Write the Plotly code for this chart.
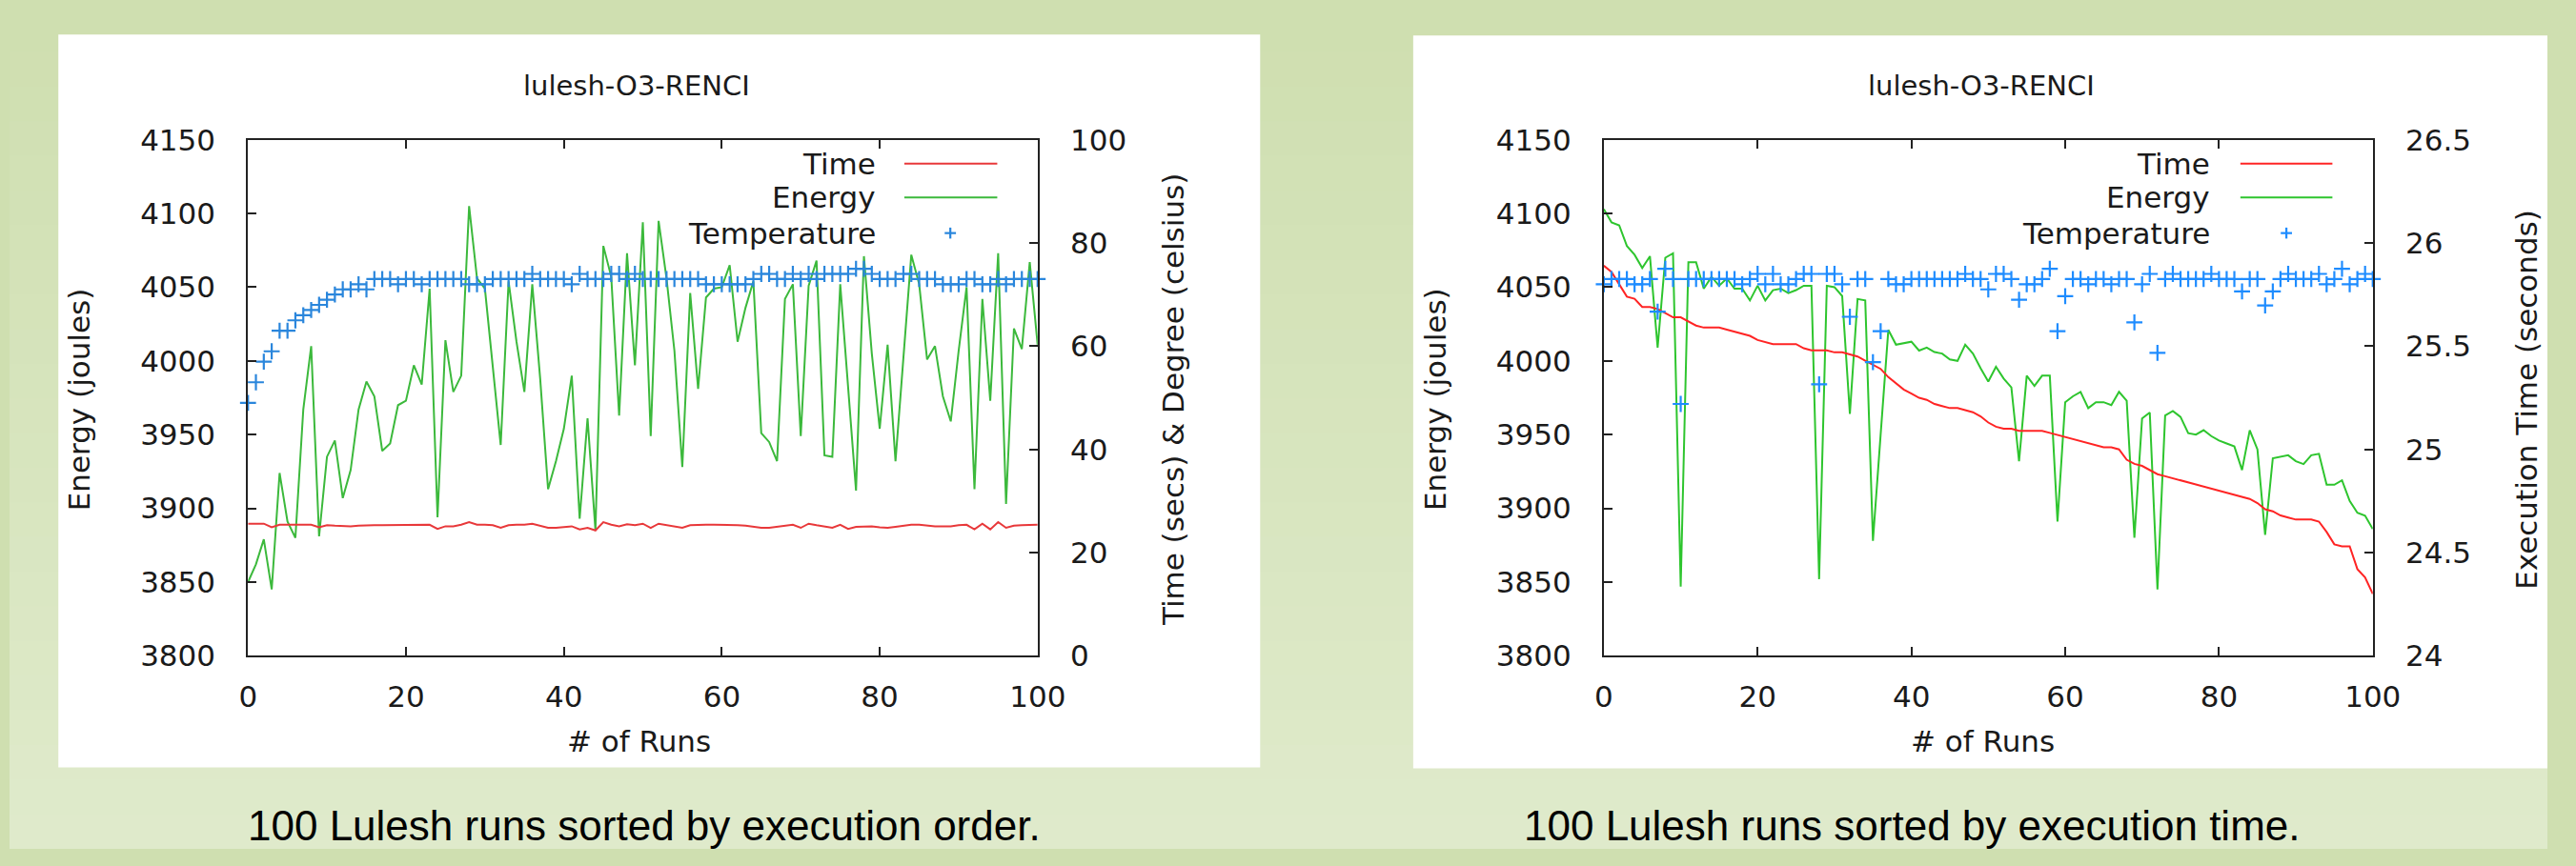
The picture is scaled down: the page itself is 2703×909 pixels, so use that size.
import plotly.graph_objects as go

W, H = 2703, 909

# ---------------- data ----------------
runs = list(range(101))

# Left chart: runs sorted by execution order
left_time = [25.6, 25.6, 25.6, 24.9, 25.4, 25.4, 25.4, 25.5, 25.4, 24.9,
             25.3, 25.2, 25.1, 25.1, 25.2, 25.3, 25.3, 25.3, 25.3, 25.3,
             25.3, 25.4, 25.3, 25.4, 24.6, 25.1, 25.1, 25.4, 25.9, 25.4,
             25.4, 25.3, 24.8, 25.3, 25.4, 25.4, 25.6, 25.2, 24.8, 24.8,
             25.0, 25.1, 24.5, 24.8, 24.3, 25.9, 25.4, 25.1, 25.5, 25.3,
             25.6, 24.8, 25.6, 25.3, 25.1, 24.8, 25.3, 25.4, 25.4, 25.4,
             25.4, 25.4, 25.3, 25.2, 25.0, 24.8, 24.8, 25.0, 25.3, 25.4,
             24.8, 25.6, 25.3, 25.1, 24.8, 25.4, 24.6, 25.0, 25.0, 25.1,
             24.9, 24.8, 25.0, 25.2, 25.4, 25.4, 25.2, 25.1, 25.1, 25.1,
             25.3, 25.4, 24.5, 25.6, 24.5, 25.9, 24.8, 25.2, 25.3, 25.4,
             25.4]
left_energy = [3850, 3862, 3879, 3845, 3924, 3891, 3880, 3967, 4010, 3881,
               3935, 3946, 3907, 3926, 3967, 3986, 3976, 3939, 3944, 3970,
               3973, 3997, 3984, 4049, 3894, 4014, 3979, 3990, 4105, 4056,
               4049, 3996, 3943, 4054, 4013, 3979, 4052, 3988, 3913, 3932,
               3954, 3990, 3893, 3961, 3885, 4078, 4057, 3963, 4073, 3997,
               4094, 3949, 4095, 4056, 4007, 3928, 4046, 3981, 4043, 4049,
               4050, 4065, 4013, 4036, 4054, 3951, 3945, 3932, 4042, 4052,
               3949, 4051, 4068, 3936, 3935, 4052, 3985, 3912, 4071, 4005,
               3954, 4011, 3932, 4000, 4072, 4052, 4001, 4010, 3976, 3959,
               4007, 4050, 3913, 4042, 3973, 4073, 3903, 4022, 4008, 4067,
               4011]
left_temp = [49, 53, 57, 59, 63, 63, 65, 66, 67, 68,
             69, 70, 71, 71, 72, 71, 73, 73, 73, 72,
             73, 73, 72, 73, 73, 73, 73, 73, 72, 72,
             72, 73, 73, 73, 73, 73, 74, 73, 73, 73,
             73, 72, 74, 73, 73, 73, 74, 74, 73, 74,
             73, 73, 73, 73, 73, 73, 73, 73, 72, 72,
             72, 72, 72, 72, 73, 74, 74, 73, 73, 74,
             73, 74, 73, 74, 74, 74, 74, 75, 75, 74,
             73, 73, 73, 74, 74, 73, 73, 73, 72, 72,
             72, 73, 73, 72, 72, 73, 72, 73, 73, 73,
             73]

# Right chart: runs sorted by execution time
right_time = [25.89, 25.86, 25.80, 25.74, 25.73, 25.69, 25.69, 25.68, 25.66, 25.64,
              25.64, 25.62, 25.60, 25.59, 25.59, 25.59, 25.58, 25.57, 25.56, 25.55,
              25.53, 25.52, 25.51, 25.51, 25.51, 25.51, 25.49, 25.48, 25.48, 25.48,
              25.47, 25.47, 25.46, 25.45, 25.43, 25.41, 25.39, 25.35, 25.32, 25.29,
              25.27, 25.25, 25.24, 25.22, 25.21, 25.20, 25.20, 25.19, 25.18, 25.16,
              25.13, 25.11, 25.10, 25.10, 25.09, 25.09, 25.09, 25.09, 25.08, 25.07,
              25.06, 25.05, 25.04, 25.03, 25.02, 25.01, 25.01, 25.00, 24.95, 24.93,
              24.92, 24.90, 24.88, 24.87, 24.86, 24.85, 24.84, 24.83, 24.82, 24.81,
              24.80, 24.79, 24.78, 24.77, 24.76, 24.74, 24.71, 24.70, 24.68, 24.67,
              24.66, 24.66, 24.66, 24.65, 24.60, 24.54, 24.53, 24.53, 24.42, 24.38,
              24.30]
right_energy = [4103, 4094, 4092, 4078, 4072, 4063, 4071, 4009, 4070, 4073,
                3847, 4067, 4067, 4049, 4057, 4051, 4056, 4049, 4049, 4041,
                4051, 4041, 4048, 4049, 4046, 4048, 4051, 4051, 3852, 4051,
                4050, 4044, 3964, 4042, 4041, 3878, 3950, 4021, 4011, 4012,
                4013, 4007, 4009, 4006, 4005, 4001, 4000, 4011, 4005, 3995,
                3986, 3996, 3988, 3982, 3932, 3990, 3983, 3990, 3990, 3891,
                3972, 3976, 3979, 3968, 3972, 3972, 3970, 3979, 3973, 3880,
                3961, 3965, 3845, 3963, 3966, 3962, 3951, 3950, 3953, 3949,
                3946, 3944, 3942, 3926, 3953, 3940, 3882, 3934, 3935, 3936,
                3932, 3930, 3936, 3937, 3916, 3916, 3919, 3905, 3897, 3895,
                3886]
right_temp = [72, 73, 73, 73, 72, 72, 73, 66.7, 75, 73,
              48.8, 73, 73, 73, 73, 73, 73, 73, 72, 73,
              74, 72, 74, 72, 72, 73, 74, 74, 52.6, 74,
              74, 72, 65.7, 73, 73, 56.9, 62.9, 73, 72, 72,
              73, 73, 73, 73, 73, 73, 73, 74, 73, 73,
              71, 74, 74, 73, 69, 72, 72, 73, 75, 62.9,
              69.7, 73, 73, 72, 73, 73, 72, 73, 73, 64.6,
              72, 74, 58.7, 73, 74, 73, 73, 73, 73, 74,
              73, 73, 73, 70.6, 73, 73, 67.9, 70.6, 73, 74,
              73, 73, 73, 74, 72, 73, 75, 72, 73, 74,
              73]

chart_title = "lulesh-O3-RENCI"
x_title = "# of Runs"
legend_names = ["Time", "Energy", "Temperature"]
left_caption = "100 Lulesh runs sorted by execution order."
right_caption = "100 Lulesh runs sorted by execution time."

# ---------------- styles ----------------
L_RED, L_GREEN, L_BLUE = "#e8383a", "#3cb93c", "#2a86dc"
R_RED, R_GREEN, R_BLUE = "#ff2424", "#2ec52e", "#1e8cff"
AX_COL = "#222222"
FONT = "DejaVu Sans"
FS = 31


def px(x):
    return x / W


def py(y):
    return 1 - y / H


fig = go.Figure()

# Left chart traces
fig.add_trace(go.Scatter(x=runs, y=left_time, xaxis="x", yaxis="y2", mode="lines",
                         line=dict(color=L_RED, width=2), showlegend=False))
fig.add_trace(go.Scatter(x=runs, y=left_energy, xaxis="x", yaxis="y", mode="lines",
                         line=dict(color=L_GREEN, width=2), showlegend=False))
fig.add_trace(go.Scatter(x=runs, y=left_temp, xaxis="x", yaxis="y2", mode="markers",
                         marker=dict(symbol="cross-thin", size=12,
                                     line=dict(width=2.2, color=L_BLUE)),
                         cliponaxis=False, showlegend=False))
# Right chart traces
fig.add_trace(go.Scatter(x=runs, y=right_time, xaxis="x2", yaxis="y4", mode="lines",
                         line=dict(color=R_RED, width=2), showlegend=False))
fig.add_trace(go.Scatter(x=runs, y=right_energy, xaxis="x2", yaxis="y3", mode="lines",
                         line=dict(color=R_GREEN, width=2), showlegend=False))
fig.add_trace(go.Scatter(x=runs, y=right_temp, xaxis="x2", yaxis="y5", mode="markers",
                         marker=dict(symbol="cross-thin", size=12,
                                     line=dict(width=2.2, color=R_BLUE)),
                         cliponaxis=False, showlegend=False))

ax = dict(showline=True, linecolor=AX_COL, linewidth=2, ticks="inside", ticklen=9,
          tickwidth=1.5, tickcolor=AX_COL, showgrid=False, zeroline=False,
          tickfont=dict(family=FONT, size=FS, color="#1a1a1a"))
xdom_l = [254 / W, 1095 / W]
xdom_r = [1698 / W, 2517 / W]
ydom = [1 - 698 / H, 1 - 134 / H]

shapes = []
# background gradient bands
top_c = (207, 223, 176)
bot_c = (223, 234, 203)
nb = 24
for i in range(nb):
    t = i / (nb - 1)
    c = tuple(int(round(top_c[k] + (bot_c[k] - top_c[k]) * t)) for k in range(3))
    shapes.append(dict(type="rect", xref="paper", yref="paper", x0=0, x1=1,
                       y0=max(0, 1 - (i + 1) / nb - 0.002), y1=1 - i / nb,
                       fillcolor="rgb(%d,%d,%d)" % c, line=dict(width=0), layer="below"))
# white panels
for (x0, x1, y0, y1) in [(52, 1332, 19, 820), (1495, 2703, 20, 821)]:
    shapes.append(dict(type="rect", xref="paper", yref="paper", x0=px(x0), x1=px(x1),
                       y0=py(y1), y1=py(y0), fillcolor="white", line=dict(width=0),
                       layer="below"))

annotations = []


def text(x, y, s, size=FS, family=FONT, color="#1a1a1a", xanchor="center",
         yanchor="middle", angle=0):
    annotations.append(dict(x=px(x), y=py(y), xref="paper", yref="paper", text=s,
                            showarrow=False, xanchor=xanchor, yanchor=yanchor,
                            textangle=angle, font=dict(family=family, size=size, color=color)))


# legends (gnuplot style: text right-aligned, sample to the right)
def legend(x_text, x0, x1, xm, red, green, blue):
    ys = [160, 197, 236]
    for name, y in zip(legend_names, ys):
        text(x_text, y, name, xanchor="right")
    shapes.append(dict(type="line", xref="paper", yref="paper", x0=px(x0), x1=px(x1),
                       y0=py(ys[0]), y1=py(ys[0]), line=dict(color=red, width=2)))
    shapes.append(dict(type="line", xref="paper", yref="paper", x0=px(x0), x1=px(x1),
                       y0=py(ys[1]), y1=py(ys[1]), line=dict(color=green, width=2)))
    shapes.append(dict(type="line", xref="paper", yref="paper", x0=px(xm - 6), x1=px(xm + 6),
                       y0=py(ys[2]), y1=py(ys[2]), line=dict(color=blue, width=2.2)))
    shapes.append(dict(type="line", xref="paper", yref="paper", x0=px(xm), x1=px(xm),
                       y0=py(ys[2] - 6), y1=py(ys[2] + 6), line=dict(color=blue, width=2.2)))


legend(925, 953, 1052, 1002, L_RED, L_GREEN, L_BLUE)
legend(2346, 2376, 2474, 2425, R_RED, R_GREEN, R_BLUE)

# chart titles, axis titles
text(668, 75, chart_title, size=29)
text(2100, 75, chart_title, size=29)
text(670, 791, x_title)
text(2102, 791, x_title)
text(75, 418, "Energy (joules)", angle=-90)
text(1240, 418, "Time (secs) &amp; Degree (celsius)", angle=-90)
text(1519, 418, "Energy (joules)", angle=-90)
text(2681, 418, "Execution Time (seconds)", angle=-90)

# captions
text(676, 883, left_caption, size=44, family="Liberation Sans, Arial, sans-serif", color="#000")
text(2026, 883, right_caption, size=44, family="Liberation Sans, Arial, sans-serif", color="#000")

fig.update_layout(
    width=W, height=H, autosize=False,
    margin=dict(l=0, r=0, t=0, b=0, pad=0),
    paper_bgcolor="rgb(207,223,176)", plot_bgcolor="rgba(0,0,0,0)",
    showlegend=False,
    xaxis=dict(ax, domain=xdom_l, range=[0, 100], dtick=20, mirror="ticks", anchor="y",
               ticklabelstandoff=14),
    yaxis=dict(ax, domain=ydom, range=[3800, 4150], dtick=50, anchor="x",
               ticklabelstandoff=26),
    yaxis2=dict(ax, overlaying="y", side="right", range=[0, 100], dtick=20, anchor="x",
                ticklabelstandoff=26),
    xaxis2=dict(ax, domain=xdom_r, range=[0, 100], dtick=20, mirror="ticks", anchor="y3",
                ticklabelstandoff=14),
    yaxis3=dict(ax, domain=ydom, range=[3800, 4150], dtick=50, anchor="x2",
                ticklabelstandoff=26),
    yaxis4=dict(ax, overlaying="y3", side="right", range=[24, 26.5], dtick=0.5,
                anchor="x2", ticklabelstandoff=26),
    yaxis5=dict(overlaying="y3", range=[0, 100], visible=False, anchor="x2"),
    shapes=shapes,
    annotations=annotations,
)

fig.write_html("out.html",
               config={"displayModeBar": False},
               post_script="document.body.style.margin='0';"
                           "document.body.style.overflow='hidden';")
